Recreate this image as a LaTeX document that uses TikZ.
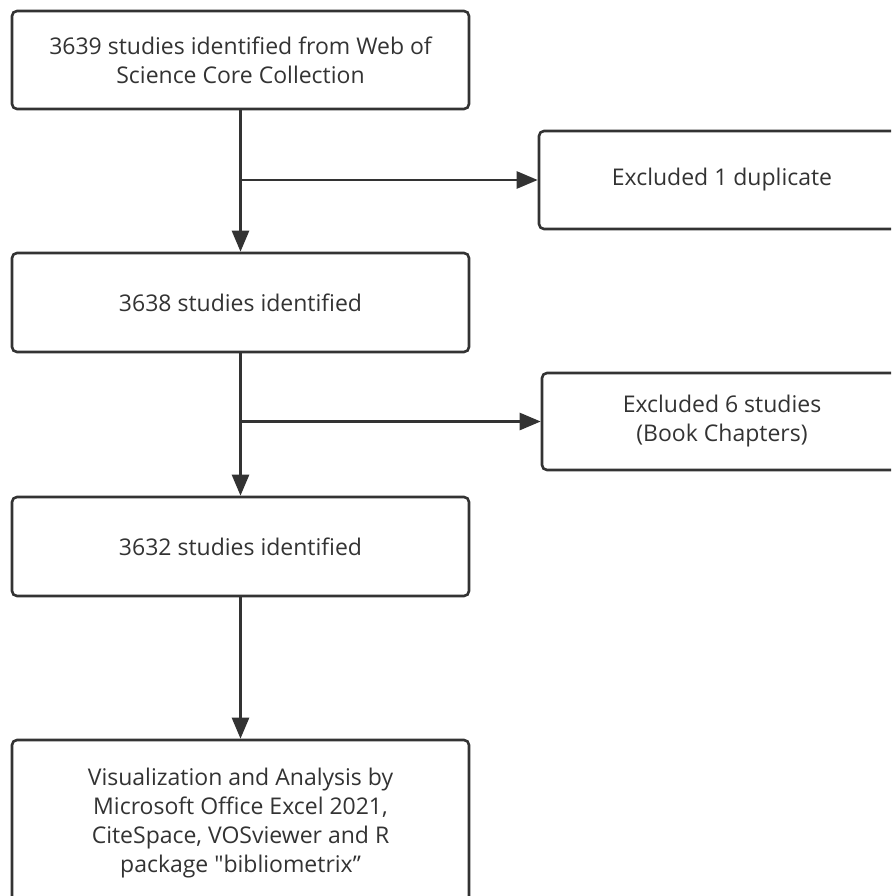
\documentclass[tikz,border=0pt]{standalone}
\usepackage{fontspec}
\newfontfamily\boxfont{Open Sans}
\usetikzlibrary{arrows.meta}
\definecolor{ink}{HTML}{333333}
\begin{document}
\begin{tikzpicture}[x=1pt,y=-1pt,
  box/.style={draw=ink, line width=2.6pt, rounded corners=5pt, fill=white, text=ink,
    font=\boxfont\fontsize{23}{29}\selectfont, align=center, inner sep=0pt},
  conn/.style={draw=ink, line width=2.6pt, -{Triangle[length=21pt,width=17pt]}}]
\useasboundingbox (0,0) rectangle (891,896);
\clip (0,0) rectangle (891,896);
\node[box, minimum width=457pt, minimum height=98pt] (b1) at (240.5,60)
  {3639 studies identified from Web of\\Science Core Collection};
\node[box, minimum width=366pt, minimum height=98pt] (b2) at (722,180)
  {\raisebox{-3pt}{Excluded 1 duplicate}};
\node[box, minimum width=457pt, minimum height=99pt] (b3) at (240.5,302.5)
  {\raisebox{-2pt}{3638 studies identified}};
\node[box, minimum width=360pt, minimum height=97pt] (b4) at (722,421.5)
  {Excluded 6 studies\\(Book Chapters)};
\node[box, minimum width=457pt, minimum height=99pt] (b5) at (240.5,546.5)
  {\raisebox{-2pt}{3632 studies identified}};
\node[box, minimum width=457pt, minimum height=166pt] (b6) at (240.5,823)
  {Visualization and Analysis by\\Microsoft Office Excel 2021,\\CiteSpace, VOSviewer and R\\package "bibliometrix”\ };
\draw[conn] (b1) -- (b3);
\draw[conn] (b1.south |- b2.west) -- (b2.west);
\draw[conn] (b3) -- (b5);
\draw[conn] (b3.south |- b4.west) -- (b4.west);
\draw[conn] (b5) -- (b6);
\end{tikzpicture}
\end{document}
